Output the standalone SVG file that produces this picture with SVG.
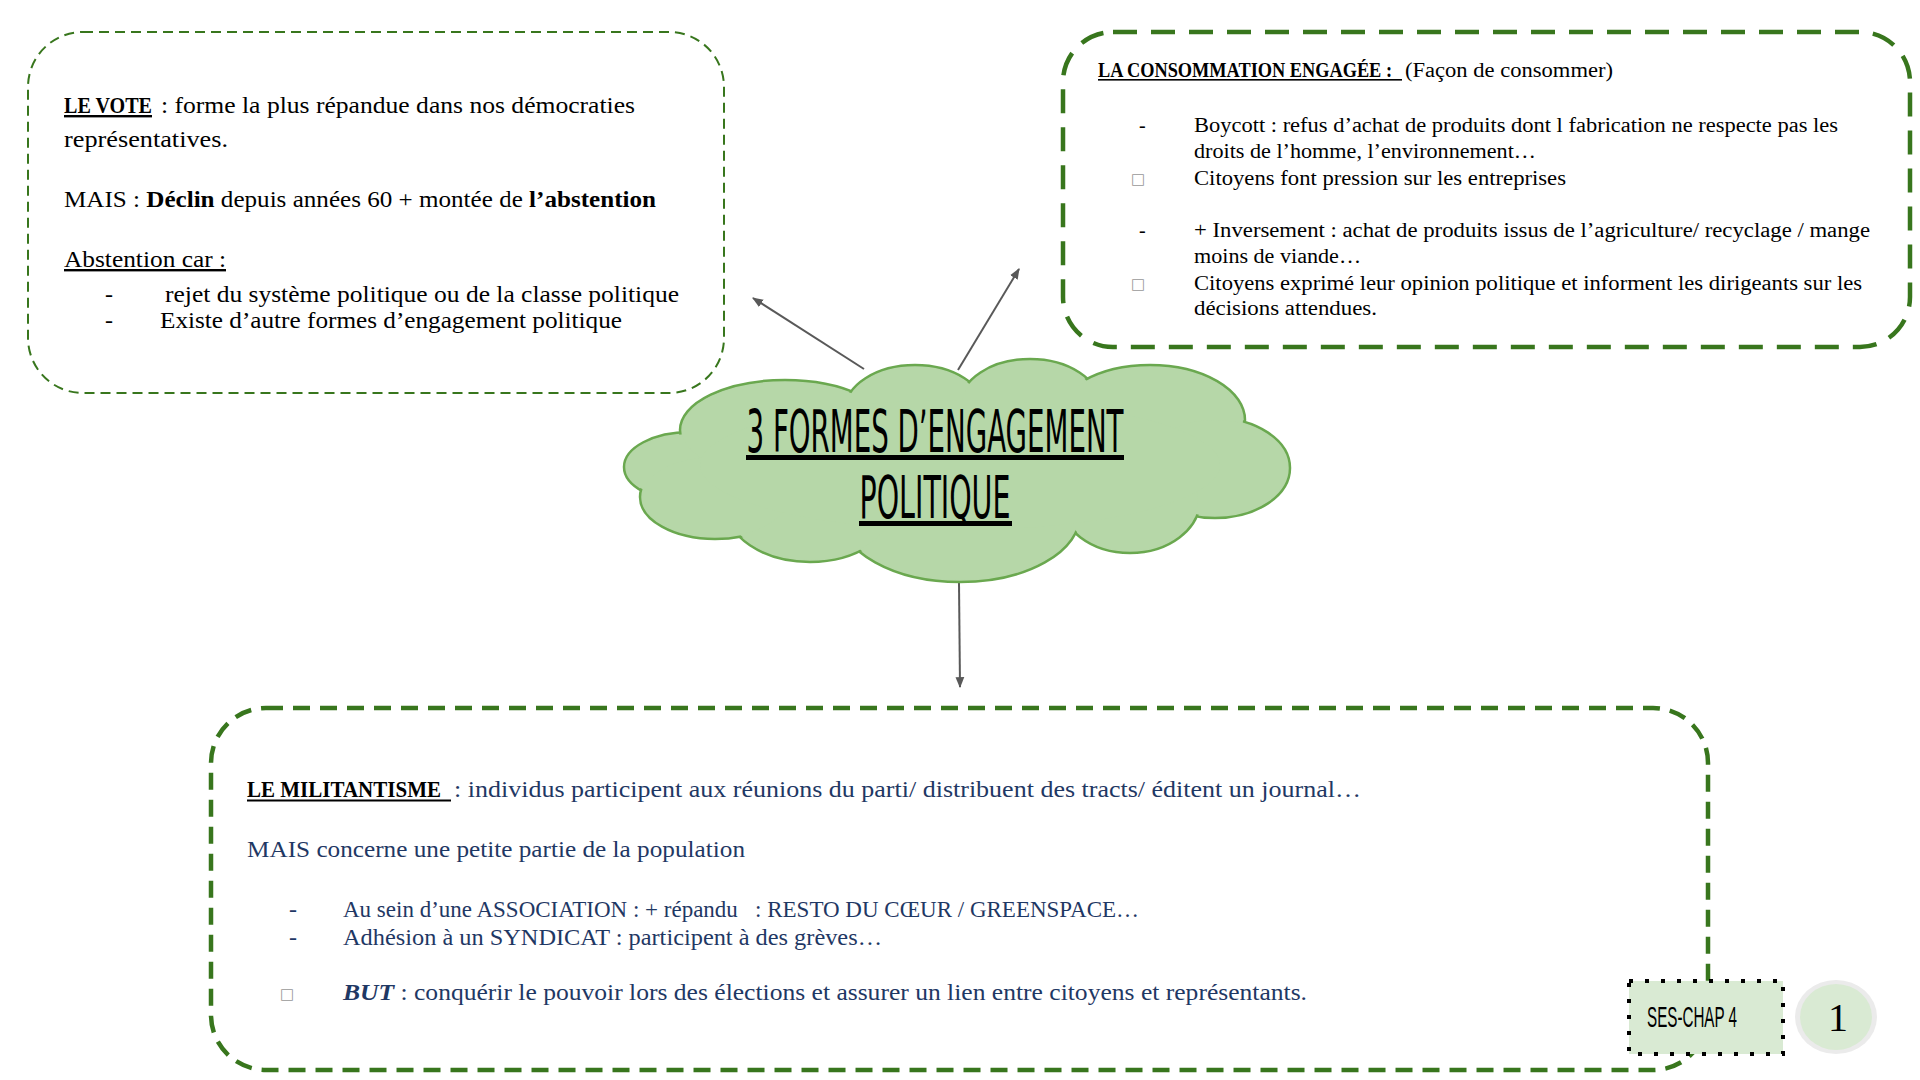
<svg xmlns="http://www.w3.org/2000/svg" width="1920" height="1080" viewBox="0 0 1920 1080">
<defs>
<marker id="ah" viewBox="0 0 10 10" refX="9" refY="5" markerWidth="11" markerHeight="11" markerUnits="userSpaceOnUse" orient="auto"><path d="M0,1 L10,5 L0,9 z" fill="#595959"/></marker>
</defs>
<style>
.thin{fill:none;stroke:#38761d;stroke-width:2;stroke-dasharray:10 6}
.thick{fill:none;stroke:#38761d;stroke-width:4.5;stroke-dasharray:24 14}
.thickb{fill:none;stroke:#38761d;stroke-width:4.5;stroke-dasharray:17 10}
.s{font-family:"Liberation Serif","DejaVu Serif",serif;fill:#000;white-space:pre}
.l{font-size:24px}
.r{font-size:20px}
.b{font-size:24px;fill:#1f3864}
.bold{font-weight:bold}
.u{text-decoration:underline}
.sq{font-family:"DejaVu Sans",sans-serif;fill:#999;font-size:15px}
.cl{fill:#b6d7a8;stroke:#6aa84f;stroke-width:2.5}
.cf{fill:#b6d7a8}
.title{font-family:"Liberation Sans Narrow","DejaVu Sans Condensed","Liberation Sans",sans-serif;font-size:58px;fill:#000}
.conn{stroke:#595959;stroke-width:2;fill:none;marker-end:url(#ah)}
</style>
<rect width="1920" height="1080" fill="#fff"/>

<g id="vote">
<rect class="thin" x="28" y="32" width="696" height="361" rx="55"/>
<text class="s l bold u" x="64" y="113" textLength="88" lengthAdjust="spacingAndGlyphs">LE VOTE</text>
<text class="s l" x="161" y="113" textLength="474" lengthAdjust="spacingAndGlyphs">: forme la plus répandue dans nos démocraties</text>
<text class="s l" x="64" y="147" textLength="164" lengthAdjust="spacingAndGlyphs">représentatives.</text>
<text class="s l" x="64" y="207" textLength="592" lengthAdjust="spacingAndGlyphs">MAIS : <tspan class="bold">Déclin</tspan> depuis années 60 + montée de <tspan class="bold">l’abstention</tspan></text>
<text class="s l u" x="64" y="267" textLength="162" lengthAdjust="spacingAndGlyphs">Abstention car :</text>
<text class="s l" x="105" y="302">-</text>
<text class="s l" x="165" y="302" textLength="514" lengthAdjust="spacingAndGlyphs">rejet du système politique ou de la classe politique</text>
<text class="s l" x="105" y="328">-</text>
<text class="s l" x="160" y="328" textLength="462" lengthAdjust="spacingAndGlyphs">Existe d’autre formes d’engagement politique</text>
</g>

<g id="consommation">
<rect class="thick" x="1063" y="32" width="847" height="315" rx="50"/>
<text class="s r bold" x="1098" y="77" textLength="294" lengthAdjust="spacingAndGlyphs">LA CONSOMMATION ENGAGÉE :</text>
<rect x="1098" y="79" width="304" height="1.6" fill="#000"/>
<text class="s r" x="1405" y="77" textLength="208" lengthAdjust="spacingAndGlyphs">(Façon de consommer)</text>
<text class="s r" x="1139" y="132">-</text>
<text class="s r" x="1194" y="132" textLength="644" lengthAdjust="spacingAndGlyphs">Boycott : refus d’achat de produits dont l fabrication ne respecte pas les</text>
<text class="s r" x="1194" y="158" textLength="342" lengthAdjust="spacingAndGlyphs">droits de l’homme, l’environnement…</text>
<text class="sq" x="1131" y="184">□</text>
<text class="s r" x="1194" y="185" textLength="372" lengthAdjust="spacingAndGlyphs">Citoyens font pression sur les entreprises</text>
<text class="s r" x="1139" y="237">-</text>
<text class="s r" x="1194" y="237" textLength="676" lengthAdjust="spacingAndGlyphs">+ Inversement : achat de produits issus de l’agriculture/ recyclage / mange</text>
<text class="s r" x="1194" y="263" textLength="167" lengthAdjust="spacingAndGlyphs">moins de viande…</text>
<text class="sq" x="1131" y="289">□</text>
<text class="s r" x="1194" y="290" textLength="668" lengthAdjust="spacingAndGlyphs">Citoyens exprimé leur opinion politique et informent les dirigeants sur les</text>
<text class="s r" x="1194" y="315" textLength="183" lengthAdjust="spacingAndGlyphs">décisions attendues.</text>
</g>

<g id="militantisme">
<rect class="thickb" x="211" y="708" width="1497" height="362" rx="55"/>
<text class="s b bold" x="247" y="797" style="fill:#000" textLength="194" lengthAdjust="spacingAndGlyphs">LE MILITANTISME</text>
<rect x="247" y="799.5" width="204" height="2" fill="#000"/>
<text class="s b" x="454" y="797" textLength="907" lengthAdjust="spacingAndGlyphs">: individus participent aux réunions du parti/ distribuent des tracts/ éditent un journal…</text>
<text class="s b" x="247" y="857" textLength="498" lengthAdjust="spacingAndGlyphs">MAIS concerne une petite partie de la population</text>
<text class="s b" x="289" y="917">-</text>
<text class="s b" x="343" y="917" textLength="796" lengthAdjust="spacingAndGlyphs">Au sein d’une ASSOCIATION : + répandu   : RESTO DU CŒUR / GREENSPACE…</text>
<text class="s b" x="289" y="945">-</text>
<text class="s b" x="343" y="945" textLength="539" lengthAdjust="spacingAndGlyphs">Adhésion à un SYNDICAT : participent à des grèves…</text>
<text class="sq" x="280" y="999">□</text>
<text class="s b" x="343" y="1000" textLength="964" lengthAdjust="spacingAndGlyphs"><tspan class="bold" font-style="italic">BUT</tspan> : conquérir le pouvoir lors des élections et assurer un lien entre citoyens et représentants.</text>
</g>

<g id="connectors">
<line class="conn" x1="864" y1="369" x2="753" y2="298"/>
<line class="conn" x1="958" y1="370" x2="1019" y2="269"/>
<line class="conn" x1="959" y1="583" x2="960" y2="687"/>
</g>

<g id="cloud">
<ellipse class="cl" cx="690" cy="467" rx="66" ry="35"/>
<ellipse class="cl" cx="785" cy="430" rx="105" ry="50"/>
<ellipse class="cl" cx="915" cy="410" rx="70" ry="45"/>
<ellipse class="cl" cx="1030" cy="405" rx="70" ry="46"/>
<ellipse class="cl" cx="1150" cy="420" rx="95" ry="55"/>
<ellipse class="cl" cx="1215" cy="468" rx="75" ry="50"/>
<ellipse class="cl" cx="1130" cy="500" rx="70" ry="53"/>
<ellipse class="cl" cx="960" cy="515" rx="120" ry="67"/>
<ellipse class="cl" cx="810" cy="505" rx="85" ry="57"/>
<ellipse class="cl" cx="715" cy="497" rx="75" ry="42"/>
<ellipse class="cf" cx="690" cy="467" rx="64" ry="33"/>
<ellipse class="cf" cx="785" cy="430" rx="103" ry="48"/>
<ellipse class="cf" cx="915" cy="410" rx="68" ry="43"/>
<ellipse class="cf" cx="1030" cy="405" rx="68" ry="44"/>
<ellipse class="cf" cx="1150" cy="420" rx="93" ry="53"/>
<ellipse class="cf" cx="1215" cy="468" rx="73" ry="48"/>
<ellipse class="cf" cx="1130" cy="500" rx="68" ry="51"/>
<ellipse class="cf" cx="960" cy="515" rx="118" ry="65"/>
<ellipse class="cf" cx="810" cy="505" rx="83" ry="55"/>
<ellipse class="cf" cx="715" cy="497" rx="73" ry="40"/>
<ellipse class="cf" cx="960" cy="465" rx="260" ry="65"/>
<text class="title" x="935" y="452" text-anchor="middle" textLength="377" lengthAdjust="spacingAndGlyphs">3 FORMES D’ENGAGEMENT</text>
<rect x="746" y="455" width="378" height="5" fill="#000"/>
<text class="title" x="935" y="518" text-anchor="middle" textLength="151" lengthAdjust="spacingAndGlyphs">POLITIQUE</text>
<rect x="859" y="521" width="153" height="5" fill="#000"/>
</g>

<g id="ses-chap">
<rect x="1629" y="981" width="154" height="73" fill="#d9ead3" stroke="#000" stroke-width="4" stroke-dasharray="4 12"/>
<text x="1692" y="1027" text-anchor="middle" font-family="Liberation Sans Narrow,Liberation Sans,sans-serif" font-size="30" textLength="90" lengthAdjust="spacingAndGlyphs" fill="#000">SES-CHAP 4</text>
</g>

<g id="page">
<ellipse cx="1836" cy="1017" rx="41" ry="37" fill="#ebebeb"/>
<ellipse cx="1836" cy="1017" rx="36" ry="33" fill="#d9ead3"/>
<text x="1838" y="1031" text-anchor="middle" font-family="Liberation Serif,serif" font-size="40" fill="#000">1</text>
</g>
</svg>
